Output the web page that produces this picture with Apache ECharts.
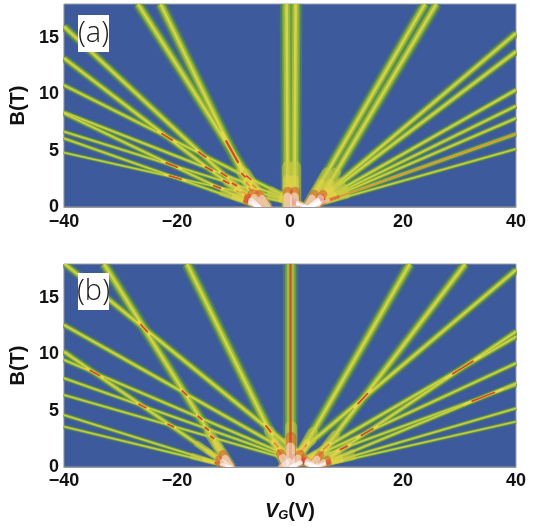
<!DOCTYPE html>
<html><head><meta charset="utf-8">
<script src="https://cdn.jsdelivr.net/npm/echarts/dist/echarts.min.js"></script>
<style>html,body{margin:0;padding:0;background:#fff}#c{width:538px;height:527px}</style>
</head><body><div id="c"></div>
<script>
// ---------------- data ----------------
const xTicks = [-40, -20, 0, 20, 40];
const yTicks = [0, 5, 10, 15];
const xRange = [-40, 40];
const yRange = [0, 18];
const panelLabels = ['(a)', '(b)'];

// Each line: [V start, B start, V end, B end, weight]
// panel (a)
const leftA = [
  [-5.5, 0, -40, 16.0, 1],
  [-5.5, 0, -40, 13.2, 1],
  [3.0, 0, -40, 10.8, 1],
  [-5.5, 0, -40, 8.31, 1],
  [3.0, 0, -40, 8.4, 1],
  [3.0, 0, -40, 6.68, 1],
  [-5.5, 0, -40, 6.09, 1],
  [3.0, 0, -40, 4.82, 1],
  [-5.5, 0, -22.9, 18, 1],
  [-4.0, 0, -26.9, 18, 1]
];
const centerA = [
  [-0.4, 0, -0.6, 18, 1],
  [0.8, 0, 1.0, 18, 1]
];
const rightA = [
  [3.5, 0, 40, 15.41, 1],
  [3.5, 0, 40, 13.78, 1],
  [3.5, 0, 40, 10.38, 1],
  [3.5, 0, 40, 8.96, 1],
  [3.5, 0, 40, 7.87, 1],
  [3.5, 0, 40, 6.48, 2],
  [3.5, 0, 40, 5.15, 1],
  [3.0, 0, 23.9, 18, 1],
  [4.5, 0, 25.9, 18, 1]
];
// panel (b)
const leftB = [
  [4.5, 0, -40, 18.07, 1],
  [4.5, 0, -40, 12.6, 1],
  [-10.5, 0, -40, 10.23, 1],
  [4.5, 0, -40, 9.5, 1],
  [4.5, 0, -40, 7.87, 1],
  [4.5, 0, -40, 6.39, 1],
  [-10.5, 0, -40, 4.61, 1],
  [-10.5, 0, -40, 3.58, 1],
  [-10.5, 0, -32.9, 18, 1],
  [-0.5, 0, -18.2, 18, 1]
];
const centerB = [
  [0.1, 0, 0.1, 18, 2]
];
const rightB = [
  [0.5, 0, 21.2, 18, 1],
  [3.7, 0, 31.0, 18, 1],
  [-1.5, 0, 40, 17.48, 1],
  [4.5, 0, 40, 12.0, 1],
  [0.3, 0, 40, 11.56, 1],
  [0.3, 0, 40, 9.2, 1],
  [4.5, 0, 40, 7.43, 1],
  [0.3, 0, 40, 7.28, 1],
  [4.5, 0, 40, 5.2, 1],
  [4.5, 0, 40, 4.02, 1]
];

// ---------------- layout / style ----------------
const grids = [
  {left: 63, top: 4, width: 453, height: 203},
  {left: 63, top: 264, width: 453, height: 203}
];
const labelMargins = [6, 5];
const pxV = 453 / (xRange[1] - xRange[0]);
const pxB = 203 / (yRange[1] - yRange[0]);
const BG = '#3d5a9c';
const FONT = '"Liberation Sans", Arial, sans-serif';

function geom(l) {
  const dx = (l[2] - l[0]) * pxV, dy = (l[3] - l[1]) * pxB;
  const len = Math.hypot(dx, dy);
  return {dx, dy, len, ux: dx / len, uy: dy / len, sin: Math.abs(dy) / len};
}
function lw(l) { const s = geom(l).sin; return 2.3 + 8 * Math.pow(s, 1.5); }
function partial(l, px) {
  const g = geom(l); const t = Math.min(1, px / g.len);
  return [[l[0], l[1]], [l[0] + (l[2] - l[0]) * t, l[1] + (l[3] - l[1]) * t]];
}
function crossings(lines) {
  const out = [];
  for (let i = 0; i < lines.length; i++) for (let j = i + 1; j < lines.length; j++) {
    const a = lines[i], b = lines[j];
    const x1 = a[0], y1 = a[1], x2 = a[2], y2 = a[3], x3 = b[0], y3 = b[1], x4 = b[2], y4 = b[3];
    const den = (x1 - x2) * (y3 - y4) - (y1 - y2) * (x3 - x4);
    if (Math.abs(den) < 1e-9) continue;
    const t = ((x1 - x3) * (y3 - y4) - (y1 - y3) * (x3 - x4)) / den;
    const u = -((x1 - x2) * (y1 - y3) - (y1 - y2) * (x1 - x3)) / den;
    if (t < -0.03 || t > 1.03 || u < -0.03 || u > 1.03) continue;
    const cx = x1 + t * (x2 - x1), cy = y1 + t * (y2 - y1);
    if (cy < 0.8 || cy > 18.5) continue;
    const ga = geom(a), gb = geom(b);
    let ax = ga.ux, ay = ga.uy, bx = gb.ux, by = gb.uy;
    if (ay < 0) { ax = -ax; ay = -ay; }
    if (by < 0) { bx = -bx; by = -by; }
    const s = Math.abs(ax * by - ay * bx);
    let mx = ax + bx, my = ay + by; const ml = Math.hypot(mx, my); mx /= ml; my /= ml;
    const wa = lw(a), wb = lw(b);
    const L = Math.min(34, 0.3 * (wa + wb) / Math.max(s, 0.04));
    out.push({c: [cx, cy], mx, my, L, s, w: Math.min(wa, wb)});
  }
  return out;
}
function seg(c, mx, my, len) {
  const dV = mx * len / 2 / pxV, dB = my * len / 2 / pxB;
  return [[c[0] - dV, c[1] - dB], [c[0] + dV, c[1] + dB]];
}

const layers = [
  {color: 'rgba(86,136,86,0.55)', f: 1.3, blur: 3},
  {color: '#6f9f42', f: 0.9},
  {color: '#9cbc3c', f: 0.62},
  {color: '#d8d24a', f: 0.26}
];

function panelSeries(p, lines) {
  const base = {type: 'lines', coordinateSystem: 'cartesian2d', xAxisIndex: p, yAxisIndex: p,
    clip: true, silent: true, polyline: false, animation: false};
  const out = [];
  layers.forEach((ly, k) => {
    out.push(Object.assign({}, base, {z: 2 + k * 0.01,
      data: lines.map(l => ({coords: [[l[0], l[1]], [l[2], l[3]]],
        lineStyle: {width: lw(l) * ly.f * (l[4] > 1 ? 1.15 : 1), color: ly.color, opacity: 1,
          shadowBlur: ly.blur || 0, shadowColor: ly.blur ? 'rgba(86,136,86,0.6)' : 'transparent'}}))}));
  });
  // glow around the convergence points
  out.push(Object.assign({}, base, {z: 2.05,
    data: lines.map(l => ({coords: partial(l, 40), lineStyle: {width: lw(l) * 1.2, color: '#c9cc44', cap: 'round'}}))}));
  const cr = crossings(lines);
  // brighter spot where two lines overlap
  out.push(Object.assign({}, base, {z: 2.1,
    data: cr.map(o => ({coords: seg(o.c, o.mx, o.my, o.L * 1.2),
      lineStyle: {width: Math.max(2.5, o.w * 0.5), color: '#e6d64a', opacity: 1, cap: 'round'}}))}));
  out.push(Object.assign({}, base, {z: 2.2,
    data: cr.filter(o => o.s < 0.75).map(o => ({coords: seg(o.c, o.mx, o.my, o.L * 0.7),
      lineStyle: {width: Math.max(1.8, o.w * 0.28), color: '#d24a2c', opacity: 1, cap: 'round'}}))}));
  // bright convergence near origins
  out.push(Object.assign({}, base, {z: 2.4,
    data: lines.map(l => ({coords: partial(l, 28), lineStyle: {width: lw(l) * 0.85, color: '#e8d64a', cap: 'round'}}))}));
  // double-weight lines: reddish core
  out.push(Object.assign({}, base, {z: 2.45,
    data: lines.filter(l => l[4] > 1).map(l => ({coords: [[l[0], l[1]], [l[2], l[3]]],
      lineStyle: {width: Math.max(1.3, lw(l) * 0.25), color: geom(l).sin > 0.9 ? '#d4502c' : '#e58a36', opacity: 1}}))}));
  out.push(Object.assign({}, base, {z: 2.5,
    data: lines.map(l => ({coords: partial(l, 15 * l[4]), lineStyle: {width: lw(l) * 1.0, color: '#d4482a', cap: 'round'}}))}));
  out.push(Object.assign({}, base, {z: 2.6,
    data: lines.map(l => ({coords: partial(l, 10 * l[4]), lineStyle: {width: lw(l) * 0.85, color: '#ffffff', cap: 'round'}}))}));
  return out;
}

const fmt = v => (v < 0 ? '\u2212' + Math.abs(v) : String(v));
function xAxis(p) {
  return {gridIndex: p, type: 'value', min: xRange[0], max: xRange[1], interval: xTicks[1] - xTicks[0],
    axisLine: {show: true, lineStyle: {color: '#9a9a9a', width: 1}}, axisTick: {show: false}, splitLine: {show: false},
    axisLabel: {formatter: fmt, fontFamily: FONT, fontWeight: 'bold', fontSize: 18, color: '#111', margin: labelMargins[p]},
    name: p === 1 ? '{i|V}{s|G}{n|(V)}' : '', nameLocation: 'middle', nameGap: 34,
    nameTextStyle: {rich: {
      i: {fontFamily: FONT, fontWeight: 'bold', fontStyle: 'italic', fontSize: 20, color: '#111'},
      s: {fontFamily: FONT, fontWeight: 'bold', fontStyle: 'italic', fontSize: 13, color: '#111', verticalAlign: 'bottom', padding: [8, 0, 0, 0]},
      n: {fontFamily: FONT, fontWeight: 'bold', fontSize: 20, color: '#111'}}}};
}
function yAxis(p) {
  return {gridIndex: p, type: 'value', min: yRange[0], max: yRange[1], interval: yTicks[1] - yTicks[0],
    axisLine: {show: true, lineStyle: {color: '#9a9a9a', width: 1}}, axisTick: {show: false}, splitLine: {show: false},
    axisLabel: {fontFamily: FONT, fontWeight: 'bold', fontSize: 18, color: '#111', margin: 5, showMaxLabel: false},
    name: 'B(T)', nameLocation: 'middle', nameGap: 24, nameRotate: 90,
    nameTextStyle: {fontFamily: FONT, fontWeight: 'bold', fontSize: 20, color: '#111'}};
}

const chart = echarts.init(document.getElementById('c'), null, {renderer: 'canvas'});
const series = [].concat(
  panelSeries(0, leftA.concat(centerA, rightA)),
  panelSeries(1, leftB.concat(centerB, rightB))
);
chart.setOption({
  animation: false,
  grid: grids.map(g => Object.assign({show: true, backgroundColor: BG, borderColor: '#a0a0a0', borderWidth: 1}, g)),
  xAxis: [xAxis(0), xAxis(1)],
  yAxis: [yAxis(0), yAxis(1)],
  series: series,
  graphic: [].concat.apply([], panelLabels.map((t, i) => {
    const top = grids[i].top + (i === 0 ? 11 : 9);
    return [
      {type: 'rect', z: 100, shape: {x: 78, y: top, width: 31, height: 37}, style: {fill: '#fff'}},
      {type: 'text', z: 101, x: 93.5, y: top + 18.5, style: {text: t, font: '300 29px "Open Sans", "Noto Sans", sans-serif',
        fill: '#1a1a1a', textAlign: 'center', textVerticalAlign: 'middle'}}
    ];
  }))
});
</script></body></html>
